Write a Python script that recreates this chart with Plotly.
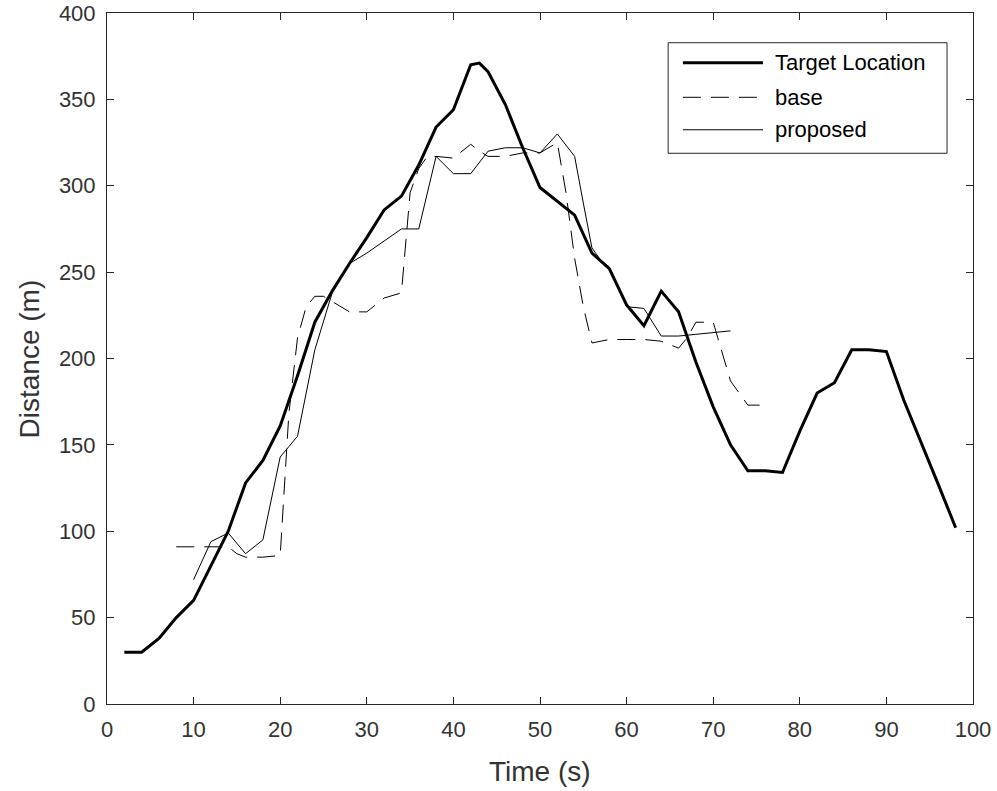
import plotly.graph_objects as go

# time (s) and distance (m)
target_t = [2, 4, 6, 8, 10, 12, 14, 16, 18, 20, 22, 24, 26, 28, 30, 32, 34, 36, 38, 40,
            42, 43, 44, 46, 48, 50, 52, 54, 56, 58, 60, 62, 64, 66, 68, 70, 72, 74, 76, 78,
            80, 82, 84, 86, 88, 90, 92, 94, 96, 98]
target_d = [30, 30, 38, 50, 60, 80, 100, 128, 141, 161, 190, 221, 239, 255, 270, 286, 294, 312, 334, 344,
            370, 371, 366, 347, 322, 299, 291, 283, 261, 252, 231, 219, 239, 227, 198, 172, 150, 135, 135, 134,
            158, 180, 186, 205, 205, 204, 176, 152, 127, 102]

base_t = [8, 10, 12, 14, 15, 16, 18, 20, 21, 22, 23, 24, 25, 26, 28, 30, 32, 34, 35, 36,
          37, 38, 40, 42, 43, 44, 46, 48, 50, 52, 53, 54, 55, 56, 58, 60, 62, 64, 66, 67,
          68, 70, 72, 74, 76]
base_d = [91, 91, 91, 91, 87, 85, 85, 86, 168, 212, 230, 236, 236, 233, 227, 227, 235, 238, 296, 310,
          317, 317, 316, 324, 320, 317, 317, 319, 319, 325, 296, 258, 230, 209, 211, 211, 211, 210, 206, 212,
          221, 221, 187, 173, 173]

prop_t = [10, 12, 14, 16, 18, 20, 21, 22, 24, 26, 28, 30, 32, 34, 36, 38, 40, 42, 44, 46,
          48, 50, 52, 54, 55, 56, 57, 58, 60, 62, 64, 66, 68, 70, 72]
prop_d = [72, 94, 99, 87, 95, 143, 149, 155, 205, 238, 255, 261, 268, 275, 275, 317, 307, 307, 320, 322,
          322, 319, 330, 317, 290, 264, 257, 253, 230, 229, 213, 213, 214, 215, 216]

x_ticks = list(range(0, 101, 10))
y_ticks = list(range(0, 401, 50))

FONT = "Liberation Sans, Arial, sans-serif"
AX = "#262626"
TXT = "#333333"

series = [
    ("Target Location", target_t, target_d, dict(color="black", width=3)),
    ("base", base_t, base_d, dict(color="black", width=1, dash="18px,10px")),
    ("proposed", prop_t, prop_d, dict(color="black", width=1)),
]

fig = go.Figure()
for name, t, d, style in series:
    fig.add_trace(go.Scatter(x=t, y=d, mode="lines", name=name, line=style, showlegend=False))

axis_style = dict(
    showline=True, linecolor=AX, linewidth=1, mirror="ticks",
    ticks="inside", ticklen=7, tickcolor=AX, tickwidth=1,
    showgrid=False, zeroline=False,
    tickfont=dict(family=FONT, size=22, color=TXT),
)
fig.update_xaxes(range=[0, 100], tickvals=x_ticks, ticklabelstandoff=6, **axis_style)
fig.update_yaxes(range=[0, 400], tickvals=y_ticks, ticklabelstandoff=6, **axis_style)

# axis labels as annotations so they sit where MATLAB put them
title_font = dict(family=FONT, size=28, color=TXT)
fig.add_annotation(xref="paper", yref="paper", x=0.5, y=-0.098, text="Time (s)", showarrow=False,
                   xanchor="center", yanchor="middle", font=title_font)
fig.add_annotation(xref="paper", yref="paper", x=-0.089, y=0.5, text="Distance (m)", showarrow=False,
                   textangle=-90, xanchor="center", yanchor="middle", font=title_font)

# legend box drawn by hand so the line samples are long like the original
lx0, lx1, ly0, ly1 = 0.648, 0.970, 0.797, 0.957
fig.add_shape(type="rect", xref="paper", yref="paper", x0=lx0, x1=lx1, y0=ly0, y1=ly1,
              line=dict(color=AX, width=1), fillcolor="white", layer="above")
entry_y = [0.928, 0.878, 0.831]
for (name, _, _, style), yy in zip(series, entry_y):
    fig.add_shape(type="line", xref="paper", yref="paper", x0=0.665, x1=0.7575, y0=yy, y1=yy,
                  line=style, layer="above")
    fig.add_annotation(xref="paper", yref="paper", x=0.769, y=yy, text=name, showarrow=False,
                       xanchor="left", yanchor="middle", font=dict(family=FONT, size=22, color="black"))

fig.update_layout(
    width=997, height=791,
    margin=dict(l=107, r=24, t=13, b=87, autoexpand=False),
    plot_bgcolor="white", paper_bgcolor="white",
)

# drop the default 8px body margin so the figure fills the window exactly
fig.write_html("out.html", config={"displayModeBar": False},
               post_script="document.body.style.margin = '0';")
